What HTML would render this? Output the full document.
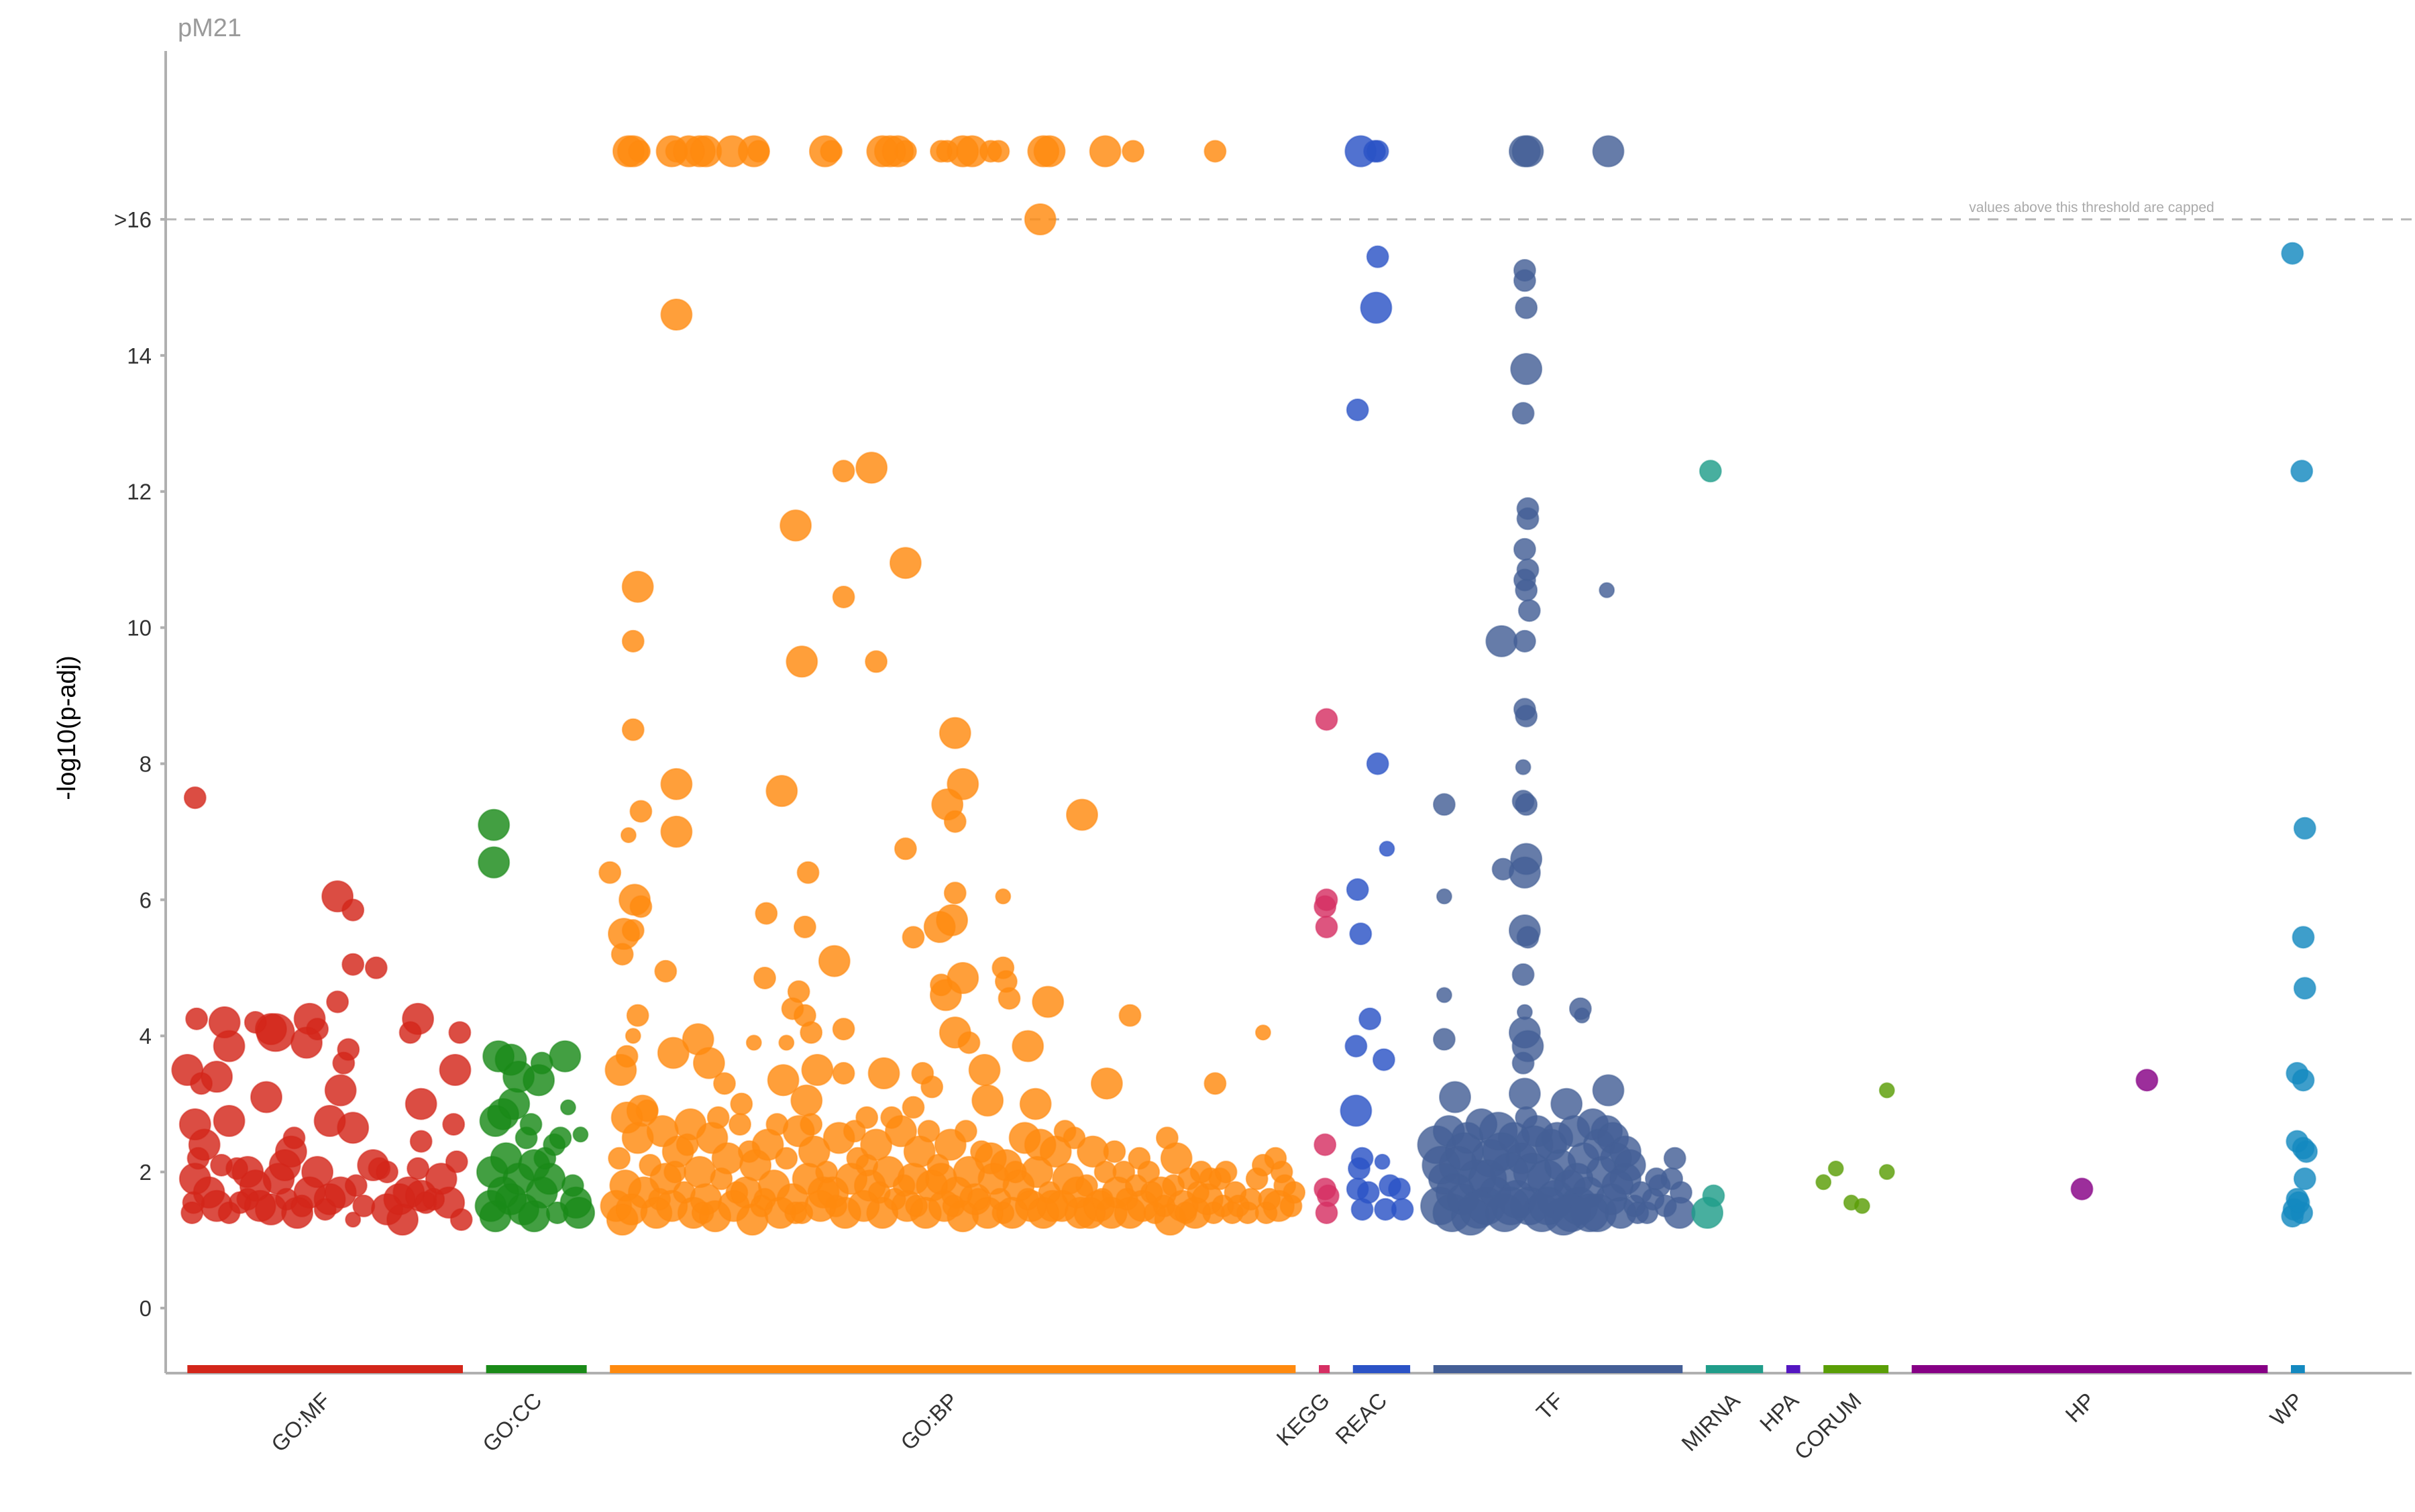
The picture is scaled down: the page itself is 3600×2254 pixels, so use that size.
<!DOCTYPE html>
<html><head><meta charset="utf-8"><style>
html,body{margin:0;padding:0;background:#fff;}
svg{display:block;font-family:"Liberation Sans",sans-serif;}
</style></head><body>
<svg id="chart" width="3600" height="2254" viewBox="0 0 3600 2254" xmlns="http://www.w3.org/2000/svg">
<text x="265" y="54" font-size="38" fill="#9a9a9a">pM21</text>
<text transform="translate(112,1085) rotate(-90)" text-anchor="middle" font-size="38" fill="#000">-log10(p-adj)</text>
<text x="3118" y="316" text-anchor="middle" font-size="21" fill="#aaa">values above this threshold are capped</text>
<g id="grid"></g><g id="pts"></g><g id="axes"></g>
</svg>
<script>
const yTicks=[0,2,4,6,8,10,12,14,16];
const yTickLabels=["0","2","4","6","8","10","12","14",">16"];
const sourceNames=["GO:MF","GO:CC","GO:BP","KEGG","REAC","TF","MIRNA","HPA","CORUM","HP","WP"];
const sourceStart=[121,314,394,852,874,926,1102,1154,1178,1235,1480];
const sourceEnd=[299,379,837,859,911,1087,1139,1163,1220,1465,1489];
const sourceColors=["#d3261a","#1a8a18","#ff8a0f","#d62f63","#2b53c6","#445f96","#209d8a","#5416c1","#5a9e06","#860085","#1489c0"];
const mfPoints=[[126,7.5,1],[121,3.5,2],[127,4.25,1],[126,2.7,2],[128,2.2,1],[126,1.9,2],[125,1.55,1],[124,1.4,1],[130,3.3,1],[132,2.4,2],[140,3.4,2],[145,4.2,2],[148,3.85,2],[148,2.75,2],[140,1.5,2],[148,1.4,1],[153,2.05,1],[155,1.55,1],[160,1.6,1],[165,4.2,1],[172,3.1,2],[175,4.1,2],[178,4.05,3],[180,1.9,2],[175,1.45,2],[184,2.1,2],[188,2.3,2],[190,2.5,1],[192,1.4,2],[195,1.5,1],[198,3.9,2],[200,4.25,2],[205,4.1,1],[213,2.75,2],[213,1.6,2],[218,6.05,2],[218,4.5,1],[220,3.2,2],[222,3.6,1],[220,1.7,2],[228,5.85,1],[228,5.05,1],[228,2.65,2],[228,1.3,0],[225,3.8,1],[243,5.0,1],[241,2.1,2],[245,2.05,1],[250,1.45,2],[258,1.6,2],[260,1.3,2],[265,4.05,1],[270,4.25,2],[272,3.0,2],[272,2.45,1],[272,1.65,2],[270,2.05,1],[275,1.55,1],[285,1.9,2],[290,1.55,2],[294,3.5,2],[297,4.05,1],[293,2.7,1],[295,2.15,1],[298,1.3,1],[160,2.0,2],[168,1.5,2],[185,1.6,1],[200,1.7,2],[210,1.45,1],[235,1.5,1],[250,2.0,1],[135,1.7,2],[143,2.1,1],[165,1.8,2],[205,2.0,2],[230,1.8,1],[264,1.7,2],[280,1.6,1]];
const ccPoints=[[319,7.1,2],[319,6.55,2],[322,3.7,2],[320,2.75,2],[318,2.0,2],[317,1.5,2],[320,1.35,2],[325,2.85,2],[327,2.2,2],[330,3.65,2],[332,3.0,2],[335,3.4,2],[330,1.6,2],[338,1.45,2],[340,2.5,1],[343,2.7,1],[345,2.1,2],[348,3.35,2],[350,3.6,1],[352,2.2,1],[350,1.7,2],[345,1.35,2],[358,2.4,1],[360,1.4,1],[362,2.5,1],[365,3.7,2],[367,2.95,0],[370,1.8,1],[372,1.55,2],[374,1.4,2],[375,2.55,0],[335,1.9,2],[325,1.7,2],[355,1.9,2]];
const bpPoints=[[406,17,2],[409,17,2],[413,17,1],[434,17,2],[437,17,1],[445,17,2],[452,17,2],[456,17,2],[473,17,2],[487,17,2],[490,17,1],[533,17,2],[537,17,1],[570,17,2],[575,17,2],[580,17,2],[585,17,1],[608,17,1],[612,17,1],[622,17,2],[628,17,2],[640,17,1],[645,17,1],[674,17,2],[678,17,2],[714,17,2],[732,17,1],[785,17,1],
[672,16,2],[437,14.6,2],[563,12.35,2],[545,12.3,1],[514,11.5,2],[585,10.95,2],[412,10.6,2],[545,10.45,1],[409,9.8,1],[518,9.5,2],[566,9.5,1],[409,8.5,1],[617,8.45,2],[437,7.7,2],[505,7.6,2],[622,7.7,2],[612,7.4,2],[699,7.25,2],[414,7.3,1],[617,7.15,1],[437,7.0,2],[406,6.95,0],[585,6.75,1],[522,6.4,1],[394,6.4,1],[410,6.0,2],[414,5.9,1],[617,6.1,1],[648,6.05,0],[495,5.8,1],[403,5.5,2],[409,5.55,1],[607,5.6,2],[615,5.7,2],[590,5.45,1],[520,5.6,1],[402,5.2,1],[539,5.1,2],[648,5.0,1],[430,4.95,1],[622,4.85,2],[608,4.75,1],[494,4.85,1],[650,4.8,1],[611,4.6,2],[652,4.55,1],[677,4.5,2],[516,4.65,1],[512,4.4,1],[520,4.3,1],[412,4.3,1],[730,4.3,1],[545,4.1,1],[816,4.05,0],[617,4.05,2],[524,4.05,1],[409,4.0,0],[451,3.95,2],[487,3.9,0],[626,3.9,1],[435,3.75,2],[664,3.85,2],[508,3.9,0],[405,3.7,1],[458,3.6,2],[528,3.5,2],[545,3.45,1],[571,3.45,2],[596,3.45,1],[636,3.5,2],[401,3.5,2],[715,3.3,2],[785,3.3,1],[506,3.35,2],[468,3.3,1],[602,3.25,1],[479,3.0,1],[521,3.05,2],[638,3.05,2],[669,3.0,2],[590,2.95,1],[415,2.9,2],[560,2.8,1],[405,2.8,2],
[398,1.5,2],[400,2.2,1],[404,1.8,2],[408,1.45,2],[412,2.5,2],[416,1.7,2],[420,2.1,1],[424,1.4,2],[428,2.6,2],[430,1.9,2],[434,1.5,2],[438,2.3,2],[442,1.7,1],[446,2.7,2],[448,1.4,2],[452,2.0,2],[456,1.6,2],[460,2.5,2],[462,1.35,2],[466,1.9,1],[470,2.2,2],[474,1.5,2],[478,2.7,1],[482,1.7,2],[486,1.3,2],[488,2.1,2],[492,1.5,1],[496,2.4,2],[500,1.8,2],[504,1.4,2],[508,2.2,1],[512,1.6,2],[516,2.6,2],[518,1.4,1],[522,1.9,2],[526,2.3,2],[530,1.5,2],[534,2.0,1],[538,1.7,2],[542,2.5,2],[546,1.4,2],[550,1.9,2],[554,2.2,1],[558,1.5,2],[562,1.8,2],[566,2.4,2],[570,1.4,2],[574,2.0,2],[578,1.6,1],[582,2.6,2],[586,1.5,2],[590,1.9,2],[594,2.3,2],[598,1.4,2],[602,1.8,2],[606,2.1,1],[610,1.5,2],[614,2.4,2],[618,1.7,2],[622,1.35,2],[626,2.0,2],[630,1.6,2],[634,2.3,1],[638,1.4,2],[642,1.9,2],[646,1.6,1],[650,2.1,2],[654,1.4,2],[658,1.8,2],[662,2.5,2],[666,1.5,2],[670,2.0,2],[674,1.4,2],[678,1.7,1],[682,2.3,2],[686,1.5,2],[690,1.9,2],[694,2.5,1],[698,1.4,2],[702,1.8,1],[706,2.3,2],[710,1.5,2],[714,2.0,1],[718,1.4,2],[722,1.7,2],[726,2.0,1],[730,1.4,2],[734,1.8,1],[738,1.5,2],[742,2.0,1],[746,1.4,1],[750,1.7,2],[754,2.5,1],[756,1.3,2],[760,2.2,2],[764,1.5,2],[768,1.9,1],[772,1.4,2],[776,2.0,1],[780,1.6,2],[784,1.4,1],[788,1.9,1],[792,2.0,1],[796,1.4,1],[800,1.5,1],[806,1.4,1],[812,1.9,1],[816,2.1,1],[820,1.6,1],[824,2.2,1],[826,1.5,2],[830,1.8,1],[834,1.5,1],
[402,1.3,2],[418,2.9,1],[426,1.6,1],[436,2.0,1],[444,2.4,1],[454,1.4,1],[464,2.8,1],[476,1.7,1],[484,2.3,1],[494,1.6,1],[502,2.7,1],[514,1.4,1],[524,2.7,1],[532,1.7,2],[540,1.5,1],[552,2.6,1],[560,2.1,1],[568,1.7,1],[576,2.8,1],[584,1.8,1],[592,1.5,1],[600,2.6,1],[608,1.9,2],[616,1.5,1],[624,2.6,1],[632,1.6,1],[640,2.2,2],[648,1.4,1],[656,2.0,1],[664,1.6,1],[672,2.4,2],[680,1.5,2],[688,2.6,1],[696,1.7,2],[704,1.4,2],[712,1.6,1],[720,2.3,1],[728,1.6,1],[736,2.2,1],[744,1.7,1],[752,1.5,1],[758,1.8,1],[766,1.4,1],[774,1.7,1],[782,1.9,1],[790,1.5,1],[798,1.7,1],[808,1.6,1],[818,1.4,1],[828,2.0,1],[836,1.7,1]];
const keggPoints=[[857,8.65,1],[857,6.0,1],[856,5.9,1],[857,5.6,1],[856,2.4,1],[856,1.75,1],[858,1.65,1],[857,1.4,1]];
const reacPoints=[[879,17,2],[888,17,1],[890,17,1],[890,15.45,1],[889,14.7,2],[877,13.2,1],[890,8.0,1],[896,6.75,0],[877,6.15,1],[879,5.5,1],[885,4.25,1],[876,3.85,1],[894,3.65,1],[876,2.9,2],[880,2.2,1],[878,2.05,1],[893,2.15,0],[877,1.75,1],[898,1.8,1],[904,1.75,1],[880,1.45,1],[895,1.45,1],[906,1.45,1],[884,1.7,1]];
const tfPoints=[[985,17,2],[987,17,2],[1039,17,2],[985,15.25,1],[985,15.1,1],[986,14.7,1],[986,13.8,2],[984,13.15,1],[987,11.75,1],[987,11.6,1],[985,11.15,1],[987,10.85,1],[985,10.7,1],[986,10.55,1],[988,10.25,1],[970,9.8,2],[985,9.8,1],[1038,10.55,0],[985,8.8,1],[986,8.7,1],[984,7.95,0],[933,7.4,1],[984,7.45,1],[986,7.4,1],[971,6.45,1],[986,6.6,2],[985,6.4,2],[933,6.05,0],[985,5.55,2],[987,5.45,1],[984,4.9,1],[933,4.6,0],[1021,4.4,1],[985,4.35,0],[933,3.95,1],[1022,4.3,0],[985,4.05,2],[987,3.85,2],[984,3.6,1],[940,3.1,2],[985,3.15,2],[1039,3.2,2],[1012,3.0,2],[986,2.8,1],
[928,2.4,3],[930,1.5,3],[933,1.9,2],[936,2.6,2],[938,1.4,3],[942,2.1,3],[945,1.6,2],[948,2.5,2],[950,1.35,3],[954,1.9,3],[957,2.7,2],[960,1.5,3],[963,2.2,3],[966,1.7,2],[968,2.6,3],[972,1.4,3],[975,2.0,3],[978,2.5,2],[980,1.6,3],[983,2.2,2],[988,1.5,3],[990,2.0,3],[993,2.6,2],[996,1.4,3],[999,1.9,3],[1002,2.4,2],[1005,1.6,3],[1008,2.1,2],[1010,1.35,3],[1014,1.8,2],[1017,2.6,2],[1020,1.5,3],[1023,2.2,2],[1026,1.7,2],[1029,2.7,2],[1032,1.4,3],[1035,2.0,2],[1038,2.6,2],[1041,1.6,2],[1044,2.2,2],[1047,1.4,2],[1050,1.9,2],[1053,2.1,2],[1056,1.5,1],[1060,1.7,1],[1064,1.4,1],[1068,1.6,1],[1072,1.8,1],[1076,1.5,1],[1080,1.9,1],[1082,2.2,1],[1085,1.4,2],[1086,1.7,1],[1070,1.9,1],[931,2.1,3],[946,2.3,3],[961,1.9,3],[976,1.5,3],[991,2.4,3],[1006,2.5,2],[1019,1.9,2],[1033,2.4,2],[1045,1.8,2],[940,1.7,3],[955,1.45,3],[970,2.3,3],[1000,1.5,3],[1015,1.4,3],[1027,1.4,3],[1042,2.5,2],[1050,2.3,2],[1058,1.4,1]];
const mirnaPoints=[[1105,12.3,1],[1107,1.65,1],[1103,1.4,2]];
const hpaPoints=[];
const corumPoints=[[1219,3.2,0],[1186,2.05,0],[1178,1.85,0],[1219,2.0,0],[1196,1.55,0],[1203,1.5,0]];
const hpPoints=[[1387,3.35,1],[1345,1.75,1]];
const wpPoints=[[1481,15.5,1],[1487,12.3,1],[1489,7.05,1],[1488,5.45,1],[1489,4.7,1],[1484,3.45,1],[1488,3.35,1],[1484,2.45,1],[1488,2.35,1],[1490,2.3,1],[1489,1.9,1],[1484,1.6,1],[1482,1.45,1],[1481,1.35,1],[1487,1.4,1],[1485,1.55,1]];
const allSeries=[mfPoints,ccPoints,bpPoints,keggPoints,reacPoints,tfPoints,mirnaPoints,hpaPoints,corumPoints,hpPoints,wpPoints];

const NS="http://www.w3.org/2000/svg";
const X0=247,X1=3595,D0=107,D1=1558;
const Y0=1950,YU=101.44;
function xs(d){return X0+(d-D0)*(X1-X0)/(D1-D0);}
function ys(v){return Y0-v*YU;}
const radii=[11,16,23,28];
function mk(tag,attrs,parent){const e=document.createElementNS(NS,tag);for(const k in attrs)e.setAttribute(k,attrs[k]);parent.appendChild(e);return e;}
const grid=document.getElementById('grid'),pts=document.getElementById('pts'),axes=document.getElementById('axes');

const dash=mk('line',{x1:X0,x2:X1,y1:ys(16),y2:ys(16),stroke:'#b5b5b5','stroke-width':3,'stroke-dasharray':'16,12'},grid);



allSeries.forEach((ser,si)=>{
  ser.forEach(p=>{
    const c=mk('circle',{cx:xs(p[0]).toFixed(1),cy:ys(p[1]).toFixed(1),r:radii[p[2]],fill:sourceColors[si],'fill-opacity':0.82,stroke:sourceColors[si],'stroke-opacity':0.5,'stroke-width':2},pts);
    
    
  });
});

const ya=mk('line',{x1:X0,x2:X0,y1:76,y2:2047,stroke:'#b0b0b0','stroke-width':4},axes);


const xa=mk('line',{x1:X0,x2:X1,y1:2047,y2:2047,stroke:'#b0b0b0','stroke-width':4},axes);



yTicks.forEach((t,i)=>{
  const tk=mk('line',{x1:X0-8,x2:X0,y1:ys(t),y2:ys(t),stroke:'#b0b0b0','stroke-width':4},axes);
  
  
  const tl=mk('text',{x:226,y:ys(t)+12,'text-anchor':'end','font-size':33,fill:'#333'},axes);
  tl.textContent=yTickLabels[i];
  
  
});

sourceNames.forEach((n,i)=>{
  const a=xs(sourceStart[i]),b=xs(sourceEnd[i]);
  const r=mk('rect',{x:a,y:2035,width:b-a,height:12,fill:sourceColors[i]},axes);
  
  
  const cx=(a+b)/2+10;
  const t=mk('text',{transform:'translate('+cx+',2090) rotate(-45)','text-anchor':'end','font-size':33,fill:'#333'},axes);
  t.textContent=n;
  
  
});
</script>
</body></html>
